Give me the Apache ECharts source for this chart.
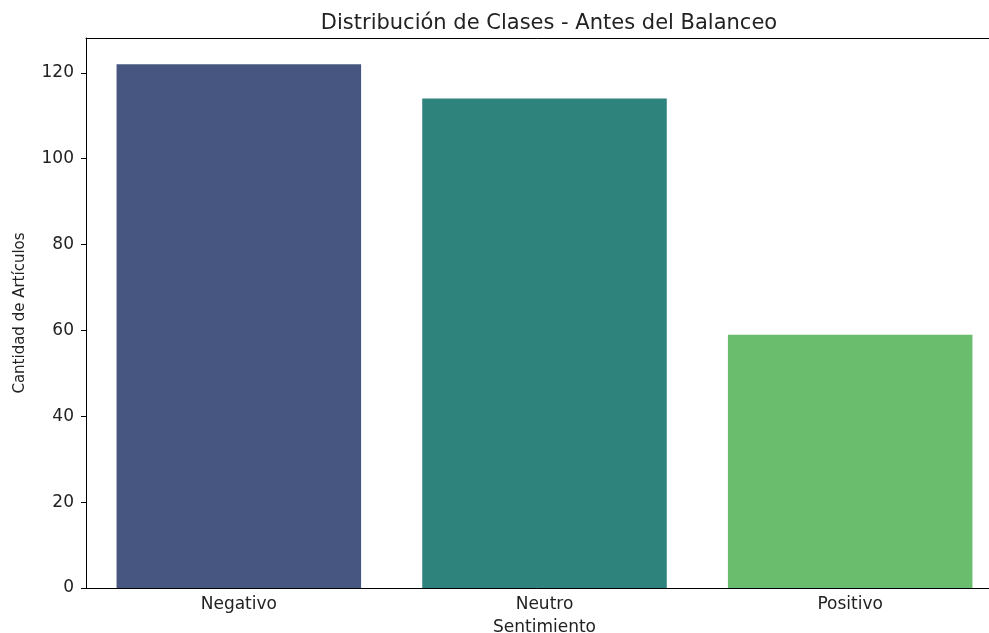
<!DOCTYPE html>
<html>
<head>
<meta charset="utf-8">
<script src="https://cdn.jsdelivr.net/npm/echarts@6/dist/echarts.min.js"></script>
<style>
  html, body { margin: 0; padding: 0; background: #fff; }
  #chart { width: 989px; height: 633px; }
</style>
</head>
<body>
<div id="chart"></div>
<script>
// datos
const categories = ['Negativo', 'Neutro', 'Positivo'];
const counts = [122, 114, 59];
const barColors = ['#465680', '#2f837d', '#6bbd6e'];
const yTicks = [0, 20, 40, 60, 80, 100, 120];

const font = 'DejaVu Sans';
const chart = echarts.init(document.getElementById('chart'));

chart.setOption({
  animation: false,
  title: {
    text: 'Distribución de Clases - Antes del Balanceo',
    left: 544,
    textAlign: 'center',
    top: 8,
    textStyle: { fontFamily: font, fontSize: 21, fontWeight: 'normal', color: '#222' }
  },
  grid: {
    left: 86, top: 38, width: 917, height: 550,
    outerBoundsMode: 'none'
  },
  xAxis: [{
    type: 'category',
    data: categories,
    name: 'Sentimiento',
    nameLocation: 'middle',
    nameGap: 31,
    nameTextStyle: { fontFamily: font, fontSize: 17, color: '#222' },
    axisLine: { lineStyle: { color: '#000', width: 1 } },
    axisTick: { alignWithLabel: true, length: 5, lineStyle: { color: '#000' } },
    axisLabel: { fontFamily: font, fontSize: 17, color: '#222', margin: 8 }
  }, {
    // borde superior
    type: 'category',
    data: categories,
    position: 'top',
    axisLine: { lineStyle: { color: '#000', width: 1 } },
    axisTick: { show: false },
    axisLabel: { show: false }
  }],
  yAxis: {
    type: 'value',
    min: 0,
    max: 128.1,
    name: 'Cantidad de Artículos',
    nameLocation: 'middle',
    nameGap: 58,
    nameTextStyle: { fontFamily: font, fontSize: 15, color: '#222' },
    axisLine: { show: true, lineStyle: { color: '#000', width: 1 } },
    axisTick: { show: true, length: 5, customValues: yTicks, lineStyle: { color: '#000' } },
    axisLabel: { fontFamily: font, fontSize: 17, color: '#222', margin: 12, customValues: yTicks },
    splitLine: { show: false }
  },
  series: [{
    type: 'bar',
    barWidth: '80%',
    data: counts.map((v, i) => ({ value: v, itemStyle: { color: barColors[i] } }))
  }]
});
</script>
</body>
</html>
